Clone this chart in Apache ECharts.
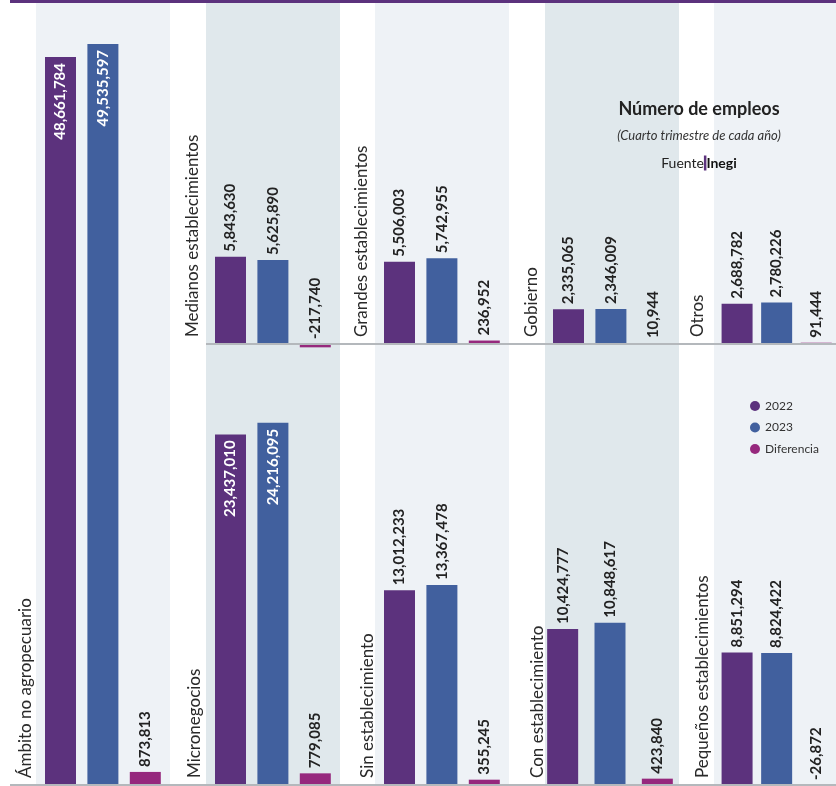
<!DOCTYPE html>
<html><head><meta charset="utf-8">
<script src="https://cdn.jsdelivr.net/npm/echarts@6/dist/echarts.min.js"></script>
<style>html,body{margin:0;padding:0;background:#fff}#c{width:836px;height:786px}</style>
</head><body><div id="c"></div>
<script>
// ---- data ----
const panelNames = ['Ámbito no agropecuario','Micronegocios','Sin establecimiento','Con establecimiento','Pequeños establecimientos','Medianos establecimientos','Grandes establecimientos','Gobierno','Otros'];
const values2022 = [48661784, 23437010, 13012233, 10424777, 8851294, 5843630, 5506003, 2335065, 2688782];
const values2023 = [49535597, 24216095, 13367478, 10848617, 8824422, 5625890, 5742955, 2346009, 2780226];
const diferencia = [873813, 779085, 355245, 423840, -26872, -217740, 236952, 10944, 91444];
const seriesNames = ['2022','2023','Diferencia'];
const titleText = 'Número de empleos';
const subtitleText = '(Cuarto trimestre de cada año)';
const sourceLabel = 'Fuente';
const sourceName = 'Inegi';

// ---- layout / style ----
const PURPLE='#5c327d', BLUE='#41609e', MAG='#96287d';
const colors=[PURPLE,BLUE,MAG];
const LIGHT='#eef2f6', DARK='#e0e8ec';
const rows = [
  {top:224.4, height:149.6, min:-2000000, max:8000000},
  {top:37, height:748, min:0, max:50000000}
];
const panelRow=[1,1,1,1,1,0,0,0,0];
const panelLeft=[39.3,209.3,378.3,539,717.3,209.3,378.3,547.3,717.3];
const panelWidth=[127.2,127.2,127.2,142,127.2,127.2,127.2,127.2,127.2];
const titleBaseX=[30,199,372,542,707,197,366,536,702];
const bands=[[36,170,LIGHT],[206,340,DARK],[375,509,LIGHT],[545,679,DARK],[714,836,LIGHT]];
const FONT='Lato';
const fmt = v => Number(v).toLocaleString('en-US');

const grids=[], xAxes=[], yAxes=[], series=[];
panelNames.forEach((name,i)=>{
  const r=rows[panelRow[i]];
  grids.push({left:panelLeft[i], width:panelWidth[i], top:r.top, height:r.height, containLabel:false});
  xAxes.push({type:'category', gridIndex:i, data:seriesNames, show:false});
  yAxes.push({type:'value', gridIndex:i, min:r.min, max:r.max, show:false});
  const vals=[values2022[i], values2023[i], diferencia[i]];
  vals.forEach((v,s)=>{
    const data=seriesNames.map((_,k)=>{
      if(k!==s) return '-';
      if(s<2 && v>20000000){
        return {value:v, label:{position:'insideTop', align:'right', color:'#fff', distance:6}};
      }
      return v;
    });
    series.push({
      type:'bar', name:seriesNames[s], xAxisIndex:i, yAxisIndex:i,
      barWidth:31, barGap:'-100%', barMinHeight: s===2?1:0,
      itemStyle:{color:colors[s]},
      data:data,
      label:{show:true, position:'top', rotate:90, align:'left', verticalAlign:'middle', distance:5,
        fontFamily:FONT, fontWeight:'bold', fontSize:15, color:'#222',
        formatter:p=>fmt(p.value)},
      emphasis:{disabled:true}, animation:false
    });
  });
});

const chart = echarts.init(document.getElementById('c'));
chart.setOption({
  animation:false,
  backgroundColor:'#fff',
  grid:grids, xAxis:xAxes, yAxis:yAxes, series:series,
  legend:{data:seriesNames, orient:'vertical', left:745, top:395, icon:'circle',
    itemWidth:10, itemHeight:10, itemGap:9.5, selectedMode:false,
    textStyle:{fontFamily:FONT, fontSize:12, color:'#333'}},
  title:[
    {text:titleText, left:699, top:98, textAlign:'center', padding:0,
      textStyle:{fontFamily:FONT, fontWeight:'bold', fontSize:18, lineHeight:22, color:'#222'}},
    {text:subtitleText, left:699, top:128, textAlign:'center', padding:0,
      textStyle:{fontFamily:FONT, fontStyle:'italic', fontWeight:'normal', fontSize:13, lineHeight:16, color:'#333'}},
    {text:'{a|'+sourceLabel+'}{b|}{c|'+sourceName+'}', left:699, top:155, textAlign:'center', padding:0,
      textStyle:{fontWeight:'normal', rich:{
        a:{fontFamily:FONT, fontSize:14, fontWeight:'normal', color:'#222', lineHeight:16},
        b:{backgroundColor:PURPLE, width:2.5, height:15},
        c:{fontFamily:FONT, fontSize:14, fontWeight:'bold', color:'#111', lineHeight:16}
      }}}
  ]
});

// decorations positioned from the axes' own scale
const g=[];
g.push({type:'rect', shape:{x:10,y:0,width:826,height:3}, style:{fill:PURPLE}, z:1});
bands.forEach(b=>g.push({type:'rect', shape:{x:b[0],y:3,width:b[1]-b[0],height:783}, style:{fill:b[2]}, z:-10}));
const yTop=chart.convertToPixel({gridIndex:5},[0,0])[1];
const yBot=chart.convertToPixel({gridIndex:0},[0,0])[1];
g.push({type:'line', shape:{x1:206,y1:yTop,x2:836,y2:yTop}, style:{stroke:'#b4b8bc', lineWidth:2}, z:50});
g.push({type:'line', shape:{x1:10,y1:yBot,x2:836,y2:yBot}, style:{stroke:'#b4b8bc', lineWidth:2}, z:50});
panelNames.forEach((name,i)=>{
  const y0=chart.convertToPixel({gridIndex:i},[0,0])[1];
  g.push({type:'text', x:titleBaseX[i]+4, y:y0-7, rotation:Math.PI/2, z:20,
    style:{text:name, fontFamily:FONT, fontSize:17, fill:'#2a2a2a', align:'left', verticalAlign:'bottom'}});
});
chart.setOption({graphic:{elements:g}});
</script></body></html>
